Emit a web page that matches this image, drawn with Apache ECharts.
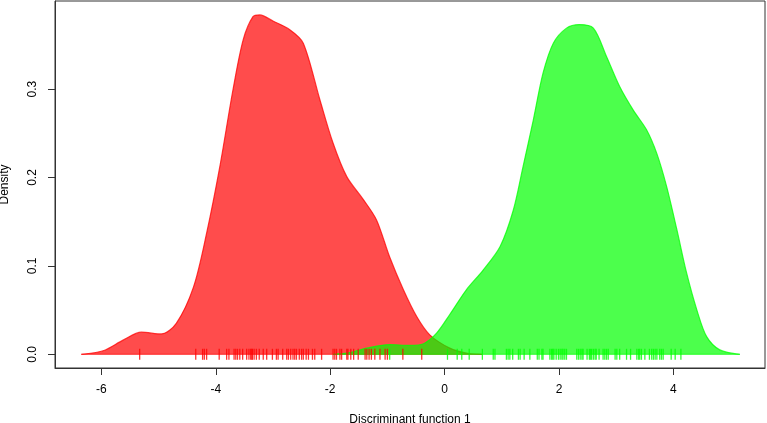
<!DOCTYPE html>
<html>
<head>
<meta charset="utf-8">
<script src="https://cdn.jsdelivr.net/npm/echarts@6/dist/echarts.min.js"></script>
<style>html,body{margin:0;padding:0;background:#fff}#c{width:767px;height:423px}</style>
</head>
<body>
<div id="c"></div>
<script>
const redX = [-6.35,-5.97,-5.62,-5.30,-4.95,-4.69,-4.39,-4.16,-3.93,-3.70,-3.52,-3.35,-3.23,-3.00,-2.70,-2.47,-2.18,-1.95,-1.71,-1.42,-1.19,-0.96,-0.72,-0.49,-0.26,0.09,0.40,0.65];
const redY = [0,0.004,0.016,0.025,0.023,0.035,0.076,0.137,0.212,0.299,0.356,0.382,0.384,0.377,0.367,0.352,0.288,0.239,0.201,0.175,0.152,0.110,0.073,0.043,0.022,0.007,0.001,0];
const greenX = [-1.95,-1.66,-1.36,-0.96,-0.61,-0.37,-0.14,0.09,0.38,0.67,0.97,1.20,1.37,1.55,1.72,1.90,2.13,2.35,2.60,2.83,3.06,3.30,3.53,3.71,3.88,4.06,4.23,4.41,4.58,4.81,5.16];
const greenY = [0,0.002,0.007,0.011,0.010,0.012,0.024,0.045,0.073,0.095,0.122,0.163,0.212,0.265,0.318,0.352,0.369,0.373,0.369,0.337,0.303,0.276,0.254,0.227,0.190,0.141,0.092,0.050,0.020,0.005,0];
const redRug = [-5.33,-4.35,-4.23,-4.20,-4.16,-3.94,-3.81,-3.77,-3.68,-3.65,-3.62,-3.58,-3.53,-3.46,-3.42,-3.39,-3.37,-3.36,-3.33,-3.29,-3.24,-3.17,-3.11,-3.01,-2.94,-2.91,-2.83,-2.76,-2.73,-2.69,-2.65,-2.62,-2.59,-2.54,-2.50,-2.47,-2.42,-2.38,-2.31,-2.27,-2.15,-1.95,-1.92,-1.89,-1.83,-1.80,-1.71,-1.69,-1.64,-1.59,-1.51,-1.39,-1.36,-1.32,-1.28,-1.22,-1.13,-1.04,-1.00,-0.73,-0.40];
const greenRug = [-0.96,0.05,0.22,0.30,0.43,0.66,0.85,0.88,1.08,1.11,1.14,1.19,1.29,1.32,1.39,1.49,1.62,1.65,1.70,1.72,1.84,1.87,1.89,1.91,1.95,1.99,2.02,2.05,2.07,2.10,2.13,2.31,2.34,2.37,2.40,2.42,2.49,2.53,2.55,2.57,2.60,2.63,2.65,2.70,2.77,2.80,2.83,2.86,2.98,3.01,3.06,3.18,3.25,3.36,3.39,3.41,3.44,3.50,3.58,3.62,3.65,3.68,3.71,3.76,3.79,3.82,3.96,4.03,4.13];
const xTicks = [-6,-4,-2,0,2,4];
const yTicks = [0,0.1,0.2,0.3];
const xTitle = 'Discriminant function 1';
const yTitle = 'Density';

const pairs = (xs, ys) => xs.map((x, i) => [x, ys[i]]);
const FONT = '"Liberation Sans", Arial, sans-serif';

const chart = echarts.init(document.getElementById('c'), null, {renderer: 'canvas'});
chart.setOption({
  animation: false,
  backgroundColor: '#fff',
  grid: {left: 55, right: 2, top: 1, bottom: 55, show: true, borderColor: '#333', borderWidth: 1,
         backgroundColor: 'transparent', containLabel: false, outerBoundsMode: 'none'},
  xAxis: {
    type: 'value', min: -6.81, max: 5.60,
    name: xTitle, nameLocation: 'middle', nameGap: 46,
    nameTextStyle: {fontFamily: FONT, fontSize: 12, color: '#000'},
    splitLine: {show: false},
    axisLine: {show: true, onZero: false, lineStyle: {color: '#333'}},
    axisTick: {show: true, length: 7, customValues: xTicks, lineStyle: {color: '#333'}},
    axisLabel: {customValues: xTicks, margin: 16, fontFamily: FONT, fontSize: 12, color: '#000', formatter: v => String(v)}
  },
  yAxis: {
    type: 'value', min: -0.0155, max: 0.3997,
    name: yTitle, nameLocation: 'middle', nameGap: 44, nameRotate: 90,
    nameTextStyle: {fontFamily: FONT, fontSize: 12, color: '#000'},
    splitLine: {show: false},
    axisLine: {show: true, onZero: false, lineStyle: {color: '#333'}},
    axisTick: {show: true, length: 7, customValues: yTicks, lineStyle: {color: '#333'}},
    axisLabel: {customValues: yTicks, rotate: 90, margin: 16, fontFamily: FONT, fontSize: 12, color: '#000', formatter: v => v.toFixed(1)}
  },
  series: [
    {type: 'line', data: pairs(redX, redY), smooth: 0.3, symbol: 'none',
     lineStyle: {color: 'rgba(255,0,0,0.75)', width: 1.2},
     areaStyle: {color: 'rgba(255,0,0,0.7)', opacity: 1, origin: 0}, z: 2},
    {type: 'line', data: [[redX[0], 0], [redX[redX.length - 1], 0]], symbol: 'none',
     lineStyle: {color: 'rgba(255,0,0,0.75)', width: 1}, z: 2},
    {type: 'line', data: pairs(greenX, greenY), smooth: 0.3, symbol: 'none',
     lineStyle: {color: 'rgba(0,255,0,0.75)', width: 1.2},
     areaStyle: {color: 'rgba(0,255,0,0.7)', opacity: 1, origin: 0}, z: 3},
    {type: 'line', data: [[greenX[0], 0], [greenX[greenX.length - 1], 0]], symbol: 'none',
     lineStyle: {color: 'rgba(0,255,0,0.75)', width: 1}, z: 3},
    {type: 'scatter', data: redRug.map(v => [v, 0]), symbol: 'rect', symbolSize: [1.3, 11],
     itemStyle: {color: 'rgb(255,0,0)'}, z: 4, silent: true},
    {type: 'scatter', data: greenRug.map(v => [v, 0]), symbol: 'rect', symbolSize: [1.3, 11],
     itemStyle: {color: 'rgb(0,255,0)'}, z: 4, silent: true}
  ]
});
</script>
</body>
</html>
